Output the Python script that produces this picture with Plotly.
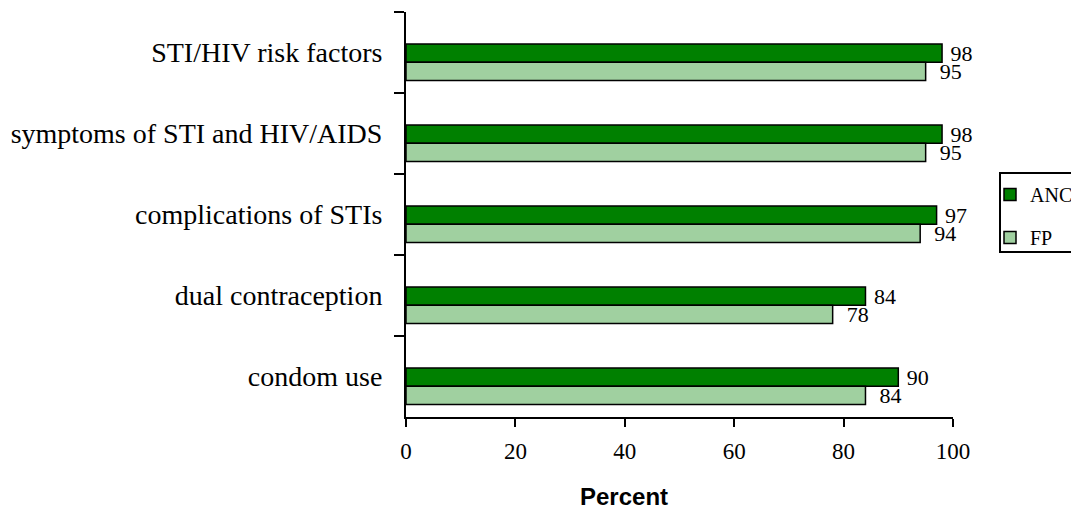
import plotly.graph_objects as go

categories = ["STI/HIV risk factors", "symptoms of STI and HIV/AIDS",
              "complications of STIs", "dual contraception", "condom use"]
anc = [98, 98, 97, 84, 90]
fp = [95, 95, 94, 78, 84]
x_ticks = [0, 20, 40, 60, 80, 100]

serif = "Liberation Serif, Times New Roman, serif"

# figure is placed by the page at (8, 8); plot area target: x 406-953, y 12-417 in window
W, H = 1071, 502
L, T = 398, 4
PW, PH = 547, 405


def px_x(x):  # window px -> paper
    return (x - 8 - L) / PW


def px_y(y):
    return (T + PH - (y - 8)) / PH


fig = go.Figure()
fig.add_trace(go.Bar(
    y=categories, x=anc, orientation="h", name="ANC",
    marker=dict(color="#008000", line=dict(color="black", width=1.5)),
    offset=-0.105, width=0.225,
    text=anc, texttemplate="\u00a0%{text}", textposition="outside",
    cliponaxis=False, constraintext="none",
    textfont=dict(family=serif, size=22, color="black"),
    legendgroup="a",
))
fig.add_trace(go.Bar(
    y=categories, x=fp, orientation="h", name="FP",
    marker=dict(color="#A0D0A0", line=dict(color="black", width=1.5)),
    offset=0.12, width=0.225,
    text=fp, texttemplate="\u00a0\u00a0%{text}", textposition="outside",
    cliponaxis=False, constraintext="none",
    textfont=dict(family=serif, size=22, color="black"),
    legendgroup="b",
))

fig.update_layout(
    width=W, height=H,
    margin=dict(l=L, r=W - L - PW, t=T, b=H - T - PH, autoexpand=False),
    plot_bgcolor="white", paper_bgcolor="white",
    barmode="overlay",
    font=dict(family=serif, color="black"),
    legend=dict(
        x=px_x(990), y=px_y(175), xanchor="left", yanchor="top",
        borderwidth=0, bgcolor="rgba(0,0,0,0)",
        font=dict(family=serif, size=20, color="black"),
        traceorder="grouped", tracegroupgap=14,
    ),
    shapes=[dict(
        type="rect", xref="paper", yref="paper",
        x0=px_x(1000), x1=px_x(1095), y0=px_y(173), y1=px_y(252),
        line=dict(color="black", width=2), fillcolor="rgba(0,0,0,0)", layer="below",
    )],
    xaxis=dict(
        range=[0, 100], tickvals=x_ticks, showgrid=False, zeroline=False,
        showline=True, linecolor="black", linewidth=2,
        ticks="outside", ticklen=8, tickwidth=2, tickcolor="black",
        tickfont=dict(family=serif, size=23, color="black"),
        ticklabelstandoff=4,
    ),
    yaxis=dict(
        type="category", categoryorder="array", categoryarray=categories,
        range=[4.5, -0.5], showgrid=False, zeroline=False,
        showline=True, linecolor="black", linewidth=2,
        ticks="outside", tickson="boundaries", ticklen=10, tickwidth=2, tickcolor="black",
        tickfont=dict(family=serif, size=28, color="black"),
        ticklabelstandoff=16,
    ),
    annotations=[dict(
        text="<b>Percent</b>", xref="paper", yref="paper",
        x=px_x(624), y=px_y(496), xanchor="center", yanchor="middle",
        showarrow=False, font=dict(family="Liberation Sans, Arial, sans-serif", size=24, color="black"),
    )],
)

fig.write_html("out.html")
